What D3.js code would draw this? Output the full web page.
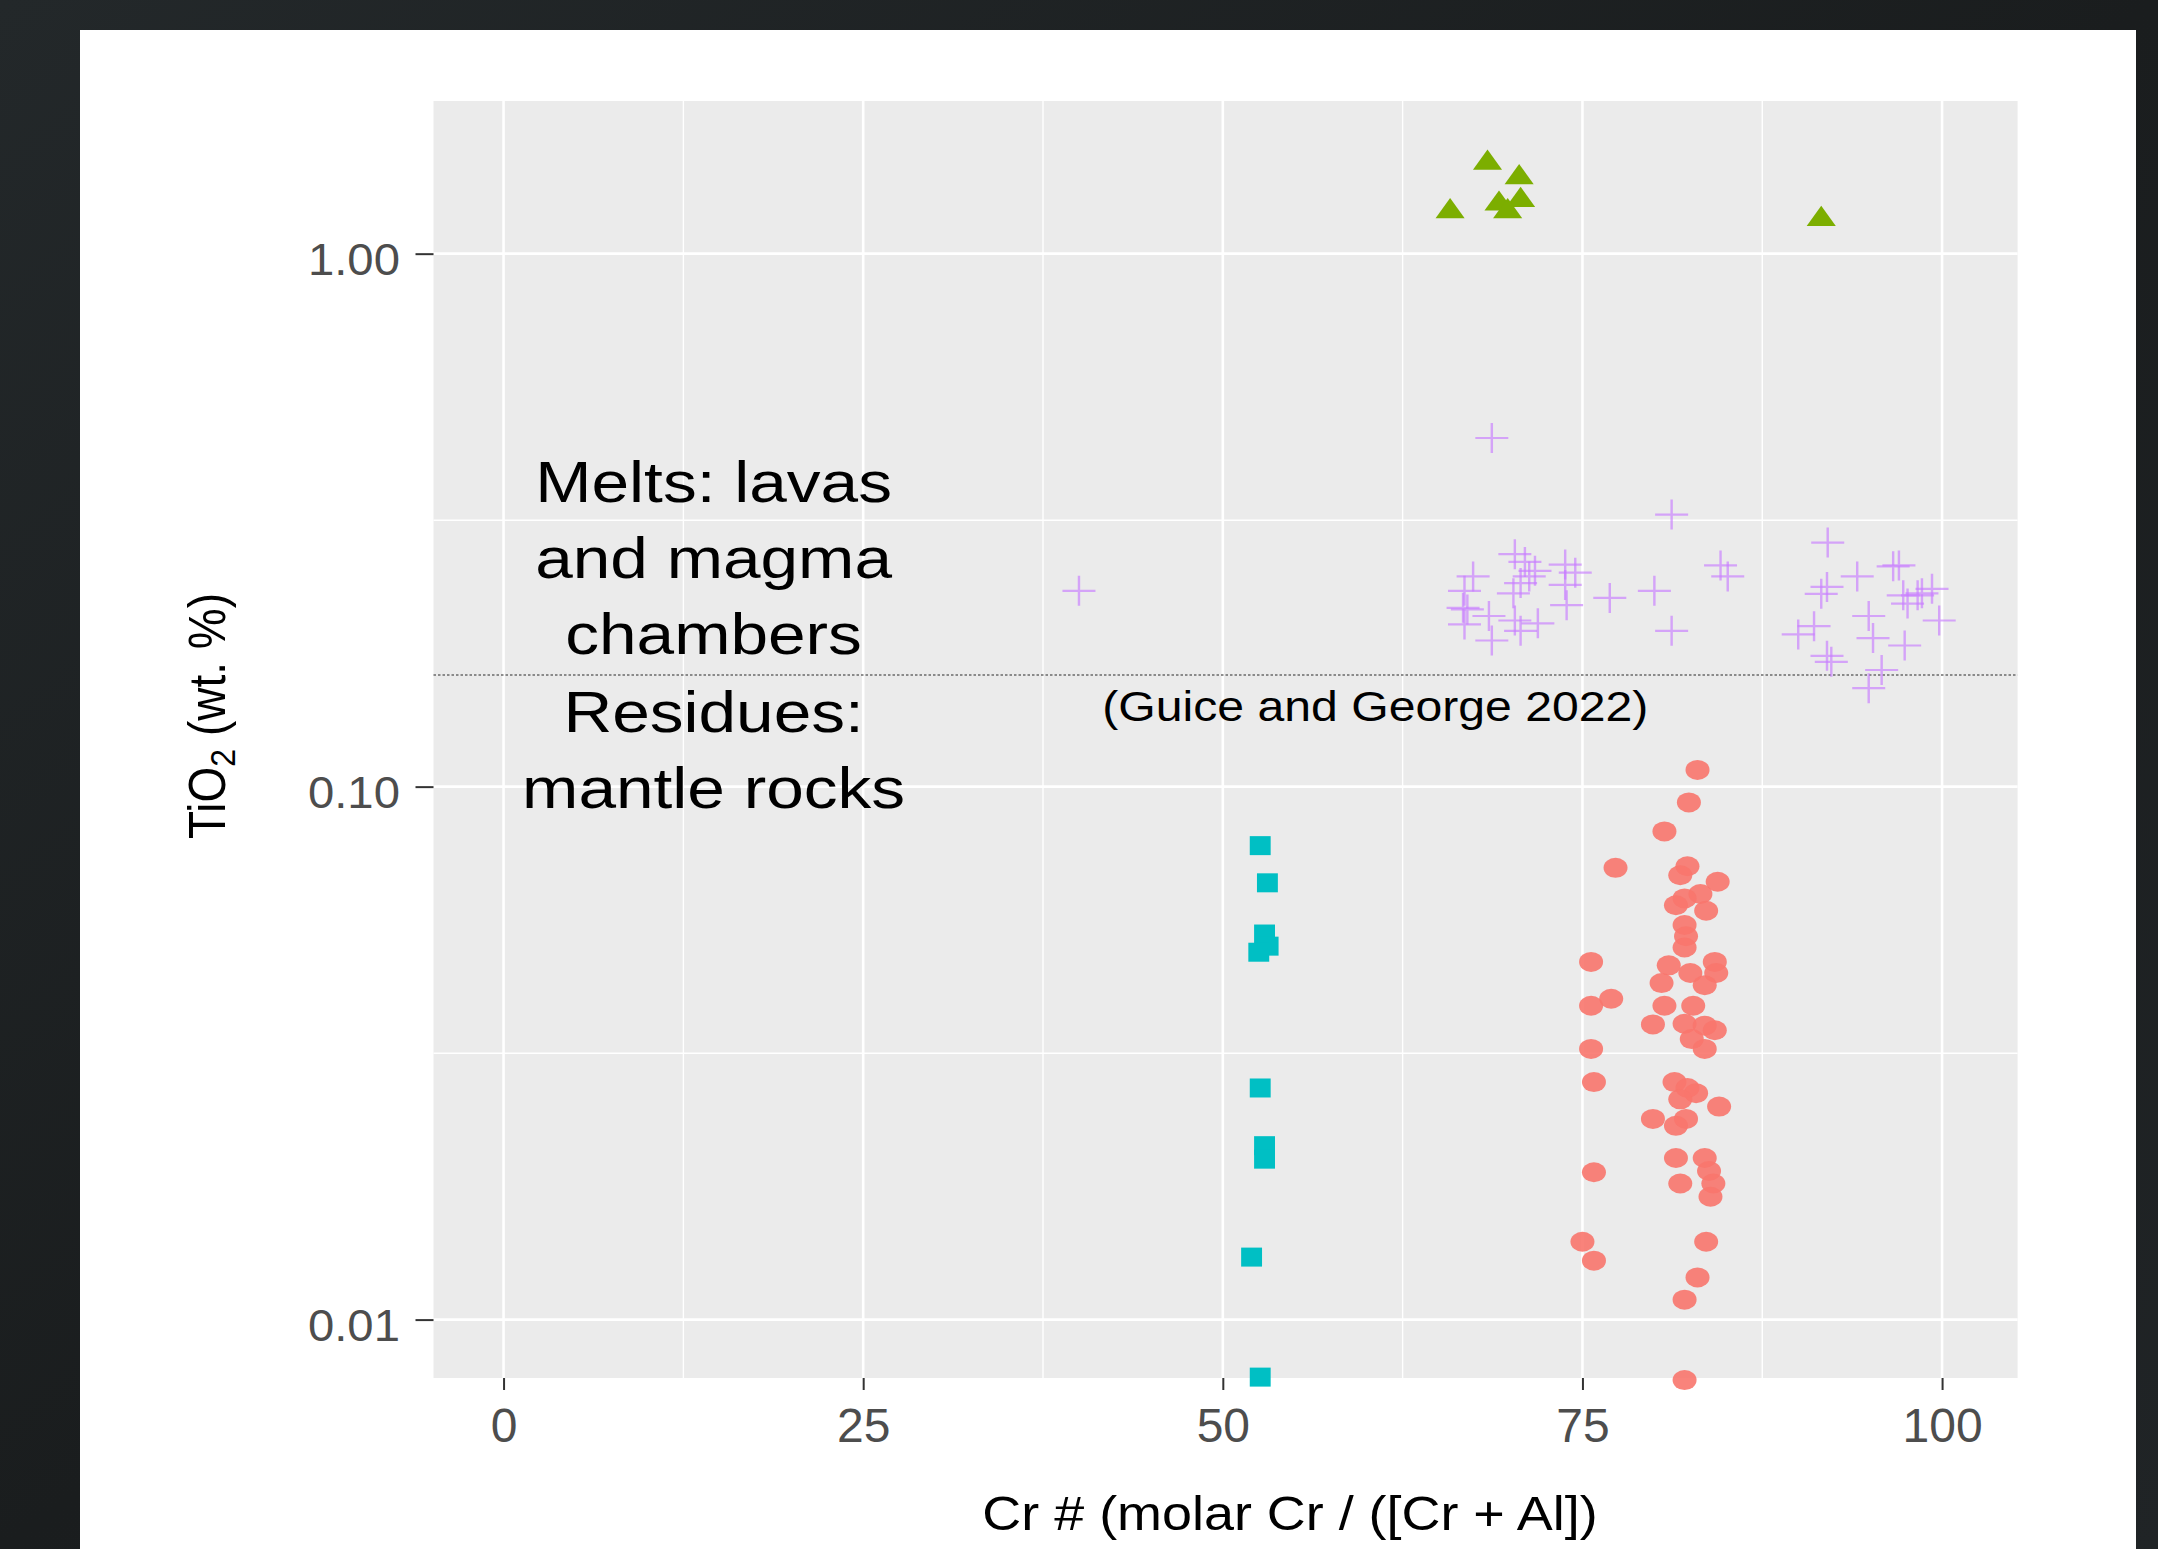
<!DOCTYPE html>
<html><head><meta charset="utf-8">
<script src="https://cdn.jsdelivr.net/npm/d3@7"></script>
<style>
html,body{margin:0;padding:0;background:#1c1e20;}
svg{display:block;}
</style></head><body>
<svg id="chart" width="2158" height="1549"></svg>
<script>
// ---------------- data ----------------
const xTicks = [0, 25, 50, 75, 100];
const xTickLabels = ["0", "25", "50", "75", "100"];
const xMinor = [12.5, 37.5, 62.5, 87.5];
const yTicks = [0.01, 0.1, 1];
const yTickLabels = ["0.01", "0.10", "1.00"];
const yMinor = [0.0316, 0.316];

// residues, red circles (Cr#, TiO2 wt.%)
const seriesCircles = [
 [83.0,0.1075],[82.4,0.0934],[80.7,0.0824],[77.3,0.0704],[82.3,0.0709],[81.8,0.0682],[84.4,0.0663],
 [83.2,0.0629],[82.1,0.0617],[81.5,0.0599],[83.6,0.0585],[82.1,0.0550],[82.2,0.0524],[82.1,0.0499],
 [75.6,0.0469],[81.0,0.0462],[84.2,0.0469],[84.3,0.0447],[82.5,0.0447],[83.5,0.0424],[80.5,0.0428],
 [77.0,0.0400],[75.6,0.0388],[80.7,0.0388],[82.7,0.0388],[79.9,0.0358],[82.1,0.0359],[83.5,0.0356],
 [84.2,0.0349],[82.6,0.0336],[83.5,0.0322],[75.6,0.0322],[75.8,0.0279],[81.4,0.0279],[82.3,0.0272],
 [82.9,0.0266],[81.8,0.0259],[84.5,0.0251],[79.9,0.0238],[82.2,0.0238],[81.5,0.0231],[81.5,0.0201],
 [83.5,0.0201],[75.8,0.0189],[83.8,0.0190],[81.8,0.0180],[84.1,0.0180],[83.9,0.0170],[75.0,0.0140],
 [75.8,0.0129],[83.6,0.0140],[83.0,0.0120],[82.1,0.0109],[82.1,0.0077]
];
// cyan squares
const seriesSquares = [
 [52.6,0.0775],[53.1,0.0660],[52.9,0.0529],[53.15,0.0502],[52.5,0.0489],
 [52.6,0.0272],[52.9,0.0212],[52.9,0.0200],[52.0,0.0131],[52.6,0.0078]
];
// green triangles
const seriesTriangles = [
 [68.4,1.48],[70.6,1.39],[65.8,1.20],[69.2,1.24],[70.7,1.26],[69.8,1.20],[91.6,1.16]
];
// purple crosses
const seriesCrosses = [
 [40.0,0.233],[68.7,0.451],[81.2,0.324],[92.05,0.287],
 [67.4,0.248],[66.8,0.233],[67.0,0.215],[68.5,0.209],[66.8,0.2015],[68.7,0.188],[70.3,0.273],
 [71.0,0.264],[71.7,0.254],[70.7,0.241],[70.2,0.2305],[70.3,0.205],[70.7,0.196],[71.9,0.2025],
 [73.8,0.261],[74.5,0.252],[73.8,0.239],[73.9,0.219],[66.7,0.2165],[71.3,0.248],
 [76.9,0.226],[80.0,0.233],[81.2,0.196],[84.6,0.260],[85.1,0.248],
 [94.1,0.248],[92.0,0.237],[91.6,0.230],[91.1,0.200],[90.0,0.193],[92.0,0.176],[92.3,0.1715],
 [94.9,0.209],[95.2,0.190],[94.9,0.153],[95.8,0.1655],[97.0,0.260],[96.6,0.259],[97.3,0.2285],
 [98.3,0.2285],[98.6,0.2305],[99.3,0.235],[97.6,0.2205],[99.8,0.205],[97.4,0.184]
];
const boundaryTiO2 = 0.162;
const melts = {x: 14.6, y: 0.269, lines: ["Melts: lavas", "and magma", "chambers"]};
const residues = {x: 14.6, y: 0.1178, lines: ["Residues:", "mantle rocks"]};
const citation = {x: 60.6, y: 0.1417, lines: ["(Guice and George 2022)"]};
const xTitle = "Cr # (molar Cr / ([Cr + Al])";

// ---------------- layout ----------------
const W = 2158, H = 1549;
const panel = {left: 433.5, right: 2017.6, top: 101, bottom: 1378};
const FONT = "'Liberation Sans', Arial, Helvetica, sans-serif";

const svg = d3.select("#chart");
const defs = svg.append("defs");
const grad = defs.append("linearGradient").attr("id","bg").attr("x1","0").attr("y1","0").attr("x2","1").attr("y2","1");
grad.append("stop").attr("offset","0").attr("stop-color","#23282a");
grad.append("stop").attr("offset","0.5").attr("stop-color","#1a1d1e");
grad.append("stop").attr("offset","1").attr("stop-color","#202426");
svg.append("rect").attr("width",W).attr("height",H).attr("fill","url(#bg)");
svg.append("rect").attr("x",80).attr("y",30).attr("width",2136-80).attr("height",H-30).attr("fill","#ffffff");

const x = d3.scaleLinear().domain([-4.87, 105.25]).range([panel.left, panel.right]);
const y = d3.scaleLog().domain([0.00777, 1.934]).range([panel.bottom, panel.top]);

svg.append("rect").attr("x",panel.left).attr("y",panel.top)
  .attr("width",panel.right-panel.left).attr("height",panel.bottom-panel.top).attr("fill","#EBEBEB");

const grid = svg.append("g");
grid.selectAll(".xmin").data(xMinor).join("line")
  .attr("x1",d=>x(d)).attr("x2",d=>x(d)).attr("y1",panel.top).attr("y2",panel.bottom)
  .attr("stroke","#ffffff").attr("stroke-width",1.4);
grid.selectAll(".ymin").data(yMinor).join("line")
  .attr("y1",d=>y(d)).attr("y2",d=>y(d)).attr("x1",panel.left).attr("x2",panel.right)
  .attr("stroke","#ffffff").attr("stroke-width",1.4);
grid.selectAll(".xmaj").data(xTicks).join("line")
  .attr("x1",d=>x(d)).attr("x2",d=>x(d)).attr("y1",panel.top).attr("y2",panel.bottom)
  .attr("stroke","#ffffff").attr("stroke-width",2.6);
grid.selectAll(".ymaj").data(yTicks).join("line")
  .attr("y1",d=>y(d)).attr("y2",d=>y(d)).attr("x1",panel.left).attr("x2",panel.right)
  .attr("stroke","#ffffff").attr("stroke-width",2.6);

// axes
const xAxis = d3.axisBottom(x).tickValues(xTicks).tickFormat((d,i)=>xTickLabels[i]).tickSize(12).tickSizeOuter(0).tickPadding(18);
const gx = svg.append("g").attr("transform",`translate(0,${panel.bottom})`).call(xAxis);
gx.select(".domain").remove();
gx.selectAll(".tick line").attr("stroke","#333333").attr("stroke-width",2);
gx.selectAll(".tick text").attr("fill","#4D4D4D").attr("font-family",FONT).attr("font-size",48)
  .attr("dy",null).attr("y",64);

const yAxis = d3.axisLeft(y).tickValues(yTicks).tickFormat((d,i)=>yTickLabels[i]).tickSize(18).tickSizeOuter(0).tickPadding(13);
const gy = svg.append("g").attr("transform",`translate(${panel.left},0)`).call(yAxis);
gy.select(".domain").remove();
gy.selectAll(".tick line").attr("stroke","#333333").attr("stroke-width",2);
gy.selectAll(".tick text").attr("fill","#4D4D4D").attr("font-family",FONT).attr("font-size",45)
  .attr("dy",null).attr("y",21).attr("x",-32)
  .attr("transform","scale(1.05,1)");

// boundary line
svg.append("line").attr("x1",panel.left).attr("x2",panel.right)
  .attr("y1",y(boundaryTiO2)).attr("y2",y(boundaryTiO2))
  .attr("stroke","#6b6b6b").attr("stroke-width",1.6).attr("stroke-dasharray","2.5,2");

// points
const plusType = {draw(ctx, size){ const r = Math.sqrt(size)/2; ctx.moveTo(-r,0); ctx.lineTo(r,0); ctx.moveTo(0,-r); ctx.lineTo(0,r); }};
const pts = svg.append("g");
pts.selectAll(".c").data(seriesCircles).join("path")
  .attr("d", d3.symbol().type(d3.symbolCircle).size(Math.PI*10*10))
  .attr("transform", d=>`translate(${x(d[0])},${y(d[1])}) scale(1.2,1)`)
  .attr("fill","#F8766D").attr("fill-opacity",0.9);
pts.selectAll(".s").data(seriesSquares).join("path")
  .attr("d", d3.symbol().type(d3.symbolSquare).size(19*19))
  .attr("transform", d=>`translate(${x(d[0])},${y(d[1])}) scale(1.1,1)`)
  .attr("fill","#00BFC4");
pts.selectAll(".p").data(seriesCrosses).join("path")
  .attr("d", d3.symbol().type(plusType).size(30*30))
  .attr("transform", d=>`translate(${x(d[0])},${y(d[1])}) scale(1.1,1)`)
  .attr("fill","none").attr("stroke","#C77CFF").attr("stroke-opacity",0.65).attr("stroke-width",2.2);
pts.selectAll(".t").data(seriesTriangles).join("path")
  .attr("d", d3.symbol().type(d3.symbolTriangle).size(235))
  .attr("transform", d=>`translate(${x(d[0])},${y(d[1])}) scale(1.25,1)`)
  .attr("fill","#7CAE00");

// annotations
function annotate(a, fs, lh, sx){
  const n = a.lines.length, cx = x(a.x), cy = y(a.y);
  a.lines.forEach((t,i)=>{
    const by = cy + (i-(n-1)/2)*lh + 0.36*fs;
    svg.append("text").attr("transform",`translate(${cx},${by}) scale(${sx},1)`)
      .attr("text-anchor","middle").attr("font-family",FONT).attr("font-size",fs)
      .attr("fill","#000000").text(t);
  });
}
annotate(melts, 58, 76, 1.165);
annotate(residues, 58, 76, 1.165);
annotate(citation, 43, 50, 1.12);

// axis titles
svg.append("text").attr("transform",`translate(1290,1530) scale(1.1,1)`)
  .attr("text-anchor","middle").attr("font-family",FONT).attr("font-size",49).attr("fill","#000").text(xTitle);
const yt = svg.append("text").attr("transform",`translate(225,716) scale(1.12,1) rotate(-90)`)
  .attr("text-anchor","middle").attr("font-family",FONT).attr("font-size",46).attr("fill","#000");
yt.append("tspan").text("TiO");
yt.append("tspan").attr("font-size",32).attr("dy",9).text("2");
yt.append("tspan").attr("dy",-9).text(" (wt. %)");
</script>
</body></html>
